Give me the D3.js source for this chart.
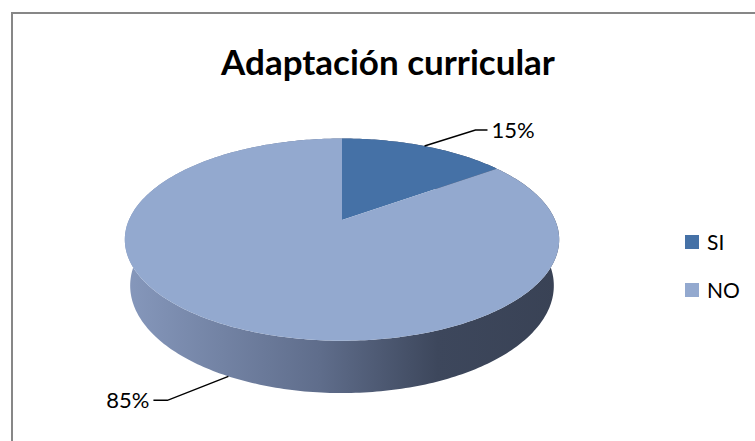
<!DOCTYPE html>
<html>
<head>
<meta charset="utf-8">
<script src="https://cdn.jsdelivr.net/npm/d3@7"></script>
<style>
  body { margin: 0; background: #fff; }
  text { font-family: Lato, "Liberation Sans", sans-serif; fill: #000; }
</style>
</head>
<body>
<div id="chart"></div>
<script>
// data
let categories = ['SI', 'NO']
let values = [15, 85]
let labels = ['15%', '85%']
let colors = ['#4571A6', '#93A9CF']

let width = 755, height = 441

let svg = d3.select('#chart')
  .append('svg')
  .attr('width', width)
  .attr('height', height)

// frame (only top and left edges are inside the picture)
svg.append('rect')
  .attr('x', 12).attr('y', 13)
  .attr('width', 800).attr('height', 500)
  .style('fill', 'none')
  .style('stroke', '#878787')
  .style('stroke-width', 2)

svg.append('text')
  .attr('x', 388)
  .attr('y', 75)
  .style('text-anchor', 'middle')
  .style('font-weight', 'bold')
  .style('font-size', '35px')
  .text('Adaptación curricular')

// 3D perspective projection of a unit disk lying flat
let cx = 342, cy = 220
let F = 978, D = 4.59
let sinE = 0.4567, cosE = 0.8896
let thick = 0.245

function project (a, y) {
  let X = Math.sin(a), Z = -Math.cos(a)
  let yc = Z * sinE + y * cosE
  let depth = D - Z * cosE + y * sinE
  return [cx + F * X / depth, cy + F * yc / depth]
}
function center (y) {
  let depth = D + y * sinE
  return [cx, cy + F * y * cosE / depth]
}

let pie = d3.pie().sort(null).value(d => d)
let arcs = pie(values)

function ring (d, y) {
  let n = Math.max(8, Math.ceil((d.endAngle - d.startAngle) * 60))
  return d3.range(n + 1).map(i => project(d.startAngle + (d.endAngle - d.startAngle) * i / n, y))
}

let line = d3.line()

let defs = svg.append('defs')
let grad = defs.append('linearGradient')
  .attr('id', 'side')
  .attr('gradientUnits', 'userSpaceOnUse')
  .attr('x1', cx - 217).attr('x2', cx + 217)
  .attr('y1', 0).attr('y2', 0)
grad.append('stop').attr('offset', '0%').attr('stop-color', '#8698BC')
grad.append('stop').attr('offset', '45%').attr('stop-color', '#5F6D8B')
grad.append('stop').attr('offset', '72%').attr('stop-color', '#3D475C')
grad.append('stop').attr('offset', '100%').attr('stop-color', '#394255')

// outer walls
svg.selectAll('.wall')
  .data(arcs)
  .enter().append('path')
  .attr('class', 'wall')
  .attr('d', d => line(ring(d, 0).concat(ring(d, thick).reverse())) + 'Z')
  .style('fill', 'url(#side)')

// top faces
svg.selectAll('.top')
  .data(arcs)
  .enter().append('path')
  .attr('class', 'top')
  .attr('d', d => line([center(0)].concat(ring(d, 0))) + 'Z')
  .style('fill', (d, i) => colors[i])

// data labels with leader lines
arcs.forEach(function (d, i) {
  let mid = (d.startAngle + d.endAngle) / 2
  let front = Math.cos(mid) < 0
  let p = front ? project(mid, thick) : project(mid, 0)
  let right = Math.sin(mid) > 0
  let elbow = right ? [p[0] + 51, p[1] - 16] : [p[0] - 61, p[1] + 24]
  let end = right ? [elbow[0] + 12, elbow[1]] : [elbow[0] - 14, elbow[1]]
  svg.append('path')
    .attr('d', line([p, elbow, end]))
    .style('fill', 'none')
    .style('stroke', '#000')
    .style('stroke-width', 1.5)
  svg.append('text')
    .attr('x', right ? end[0] + 4 : end[0] - 4)
    .attr('y', end[1] + 8)
    .style('text-anchor', right ? 'start' : 'end')
    .style('font-size', '22px')
    .text(labels[i])
})

// legend
let legend = svg.selectAll('.legend')
  .data(categories)
  .enter().append('g')
  .attr('class', 'legend')
  .attr('transform', (d, i) => 'translate(685,' + (235 + i * 48) + ')')
legend.append('rect')
  .attr('width', 14).attr('height', 14)
  .style('fill', (d, i) => colors[i])
legend.append('text')
  .attr('x', 22).attr('y', 15)
  .style('font-size', '21px')
  .text(d => d)
</script>
</body>
</html>
